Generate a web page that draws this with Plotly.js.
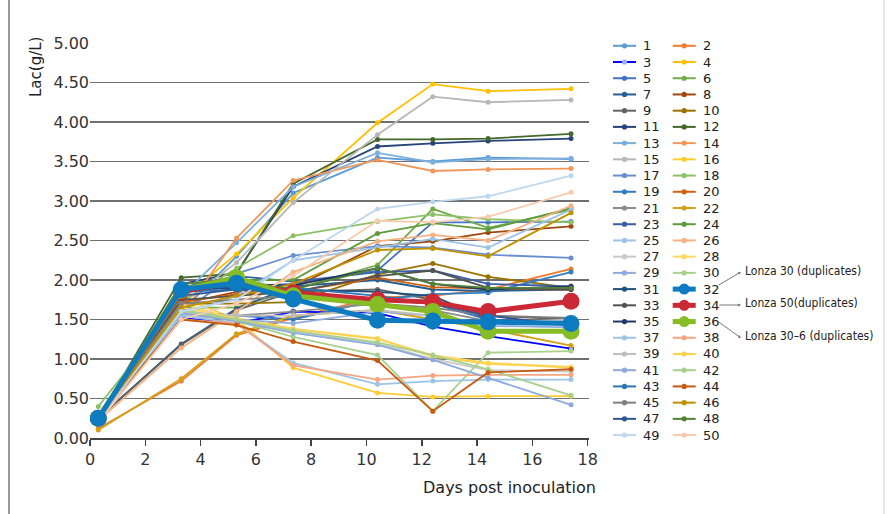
<!DOCTYPE html>
<html>
<head>
<meta charset="utf-8">
<script src="https://cdn.plot.ly/plotly-3.0.1.min.js"></script>
<style>
html,body{margin:0;padding:0;background:#fff;}
#chart{width:887px;height:514px;}
</style>
</head>
<body>
<div id="chart"></div>
<script>
// ---- data ----
const days = [0.3, 3.3, 5.3, 7.35, 10.4, 12.4, 14.4, 17.4];
const xTicks = [0, 2, 4, 6, 8, 10, 12, 14, 16, 18];
const yTicks = [0, 0.5, 1, 1.5, 2, 2.5, 3, 3.5, 4, 4.5, 5];

const s01 = [0.25, 1.60, 2.30, 3.10, 3.55, 3.50, 3.55, 3.53];
const s02 = [0.12, 0.72, 1.30, 1.52, 1.78, 1.80, 1.88, 2.14];
const s03 = [0.25, 1.52, 1.45, 1.60, 1.58, 1.41, 1.29, 1.13];
const s04 = [0.20, 1.75, 2.33, 3.04, 3.99, 4.48, 4.39, 4.42];
const s05 = [0.25, 1.85, 1.92, 1.95, 2.12, 2.73, 2.73, 2.74];
const s06 = [0.25, 1.65, 1.65, 1.88, 2.19, 2.90, 2.66, 2.89];
const s07 = [0.25, 1.19, 1.64, 1.92, 2.00, 1.88, 1.86, 1.88];
const s08 = [0.25, 1.70, 1.85, 1.90, 2.43, 2.49, 2.60, 2.68];
const s09 = [0.25, 1.18, 1.62, 1.85, 1.88, 1.75, 1.55, 1.50];
const s10 = [0.25, 1.70, 1.70, 1.72, 2.07, 2.21, 2.04, 1.90];
const s11 = [0.22, 1.95, 2.09, 3.18, 3.69, 3.73, 3.76, 3.79];
const s12 = [0.25, 2.03, 2.08, 3.22, 3.78, 3.78, 3.79, 3.85];
const s13 = [0.24, 1.80, 2.47, 3.18, 3.61, 3.49, 3.53, 3.54];
const s14 = [0.24, 1.55, 2.53, 3.26, 3.52, 3.38, 3.40, 3.41];
const s15 = [0.22, 1.70, 2.22, 2.98, 3.84, 4.32, 4.25, 4.28];
const s16 = [0.22, 1.78, 1.50, 0.89, 0.57, 0.52, 0.53, 0.53];
const s17 = [0.25, 1.58, 2.08, 2.31, 2.43, 2.41, 2.32, 2.28];
const s18 = [0.40, 1.72, 2.15, 2.56, 2.74, 2.83, 2.77, 2.73];
const s19 = [0.25, 1.60, 1.55, 1.50, 1.75, 1.82, 1.84, 2.10];
const s20 = [0.25, 1.72, 1.82, 1.85, 2.03, 1.91, 1.89, 1.88];
const s21 = [0.25, 1.55, 1.55, 1.60, 1.70, 1.62, 1.48, 1.45];
const s22 = [0.10, 0.75, 1.32, 1.55, 1.62, 1.50, 1.38, 1.17];
const s23 = [0.25, 1.90, 2.05, 1.98, 2.10, 2.12, 1.95, 1.92];
const s24 = [0.25, 1.95, 2.00, 2.00, 2.59, 2.72, 2.64, 2.91];
const s25 = [0.25, 1.55, 1.80, 2.25, 2.41, 2.52, 2.41, 2.89];
const s26 = [0.22, 1.14, 1.60, 2.10, 2.49, 2.57, 2.50, 2.94];
const s27 = [0.25, 1.55, 1.50, 1.35, 1.20, 1.00, 0.86, 0.84];
const s28 = [0.25, 1.65, 1.52, 1.38, 1.25, 1.05, 0.95, 0.90];
const s29 = [0.25, 1.58, 1.50, 1.45, 1.60, 1.55, 1.42, 1.40];
const s30 = [0.25, 1.60, 1.48, 1.28, 1.05, 0.34, 1.08, 1.10];
const s31 = [0.25, 1.88, 1.90, 1.88, 1.85, 1.80, 1.50, 1.43];
const s32 = [0.25, 1.88, 1.96, 1.76, 1.49, 1.48, 1.47, 1.45];
const s33 = [0.25, 1.75, 1.80, 1.85, 2.05, 2.12, 1.90, 1.88];
const s34 = [0.25, 1.85, 1.98, 1.84, 1.75, 1.72, 1.60, 1.73];
const s35 = [0.25, 1.90, 1.95, 1.93, 2.15, 1.95, 1.88, 1.92];
const s36 = [0.25, 1.87, 2.03, 1.80, 1.69, 1.60, 1.35, 1.35];
const s37 = [0.25, 1.55, 1.45, 0.95, 0.68, 0.72, 0.74, 0.74];
const s38 = [0.22, 1.50, 1.45, 0.92, 0.74, 0.79, 0.80, 0.80];
const s39 = [0.25, 1.60, 1.55, 1.55, 1.62, 1.55, 1.45, 1.50];
const s40 = [0.25, 1.70, 1.50, 1.38, 1.26, 1.03, 0.94, 0.89];
const s41 = [0.25, 1.58, 1.48, 1.33, 1.18, 0.99, 0.76, 0.42];
const s42 = [0.25, 1.62, 1.50, 1.36, 1.21, 1.05, 0.87, 0.54];
const s43 = [0.25, 1.85, 1.88, 1.90, 1.80, 1.70, 1.50, 1.45];
const s44 = [0.25, 1.50, 1.43, 1.22, 0.98, 0.34, 0.83, 0.87];
const s45 = [0.25, 1.70, 1.75, 1.80, 1.70, 1.65, 1.55, 1.52];
const s46 = [0.25, 1.65, 1.80, 1.95, 2.38, 2.40, 2.30, 2.85];
const s47 = [0.25, 1.80, 1.88, 1.85, 1.75, 1.70, 1.55, 1.42];
const s48 = [0.25, 1.95, 2.00, 1.88, 2.15, 1.95, 1.90, 1.90];
const s49 = [0.22, 1.60, 1.75, 2.25, 2.90, 2.99, 3.06, 3.32];
const s50 = [0.20, 1.50, 1.70, 2.05, 2.75, 2.73, 2.80, 3.11];

const allSeries = [s01,s02,s03,s04,s05,s06,s07,s08,s09,s10,s11,s12,s13,s14,s15,s16,s17,s18,s19,s20,
  s21,s22,s23,s24,s25,s26,s27,s28,s29,s30,s31,s32,s33,s34,s35,s36,s37,s38,s39,s40,
  s41,s42,s43,s44,s45,s46,s47,s48,s49,s50];
const seriesNames = allSeries.map((_, i) => String(i + 1));
const seriesColors = [
  '#5B9BD5','#ED7D31','#0000FF','#FFC000','#4472C4','#70AD47','#255E91','#9E480E','#636363','#997300',
  '#264478','#43682B','#7CAFDD','#F1975A','#B7B7B7','#FFCD33','#698ED0','#8CC168','#327DC2','#D26012',
  '#8B8B8B','#D4A017','#3A5FA9','#5E9B3A','#9DC3E6','#F4B183','#C9C9C9','#FFD966','#8FAADC','#A9D18E',
  '#1F4E79','#0C7BC0','#525252','#CC2936','#203864','#86BC25','#9DC3E6','#F4A582','#BFBFBF','#FFD24D',
  '#8EA9DB','#A8D08D','#2E75B6','#C55A11','#7F7F7F','#BF9000','#2F5597','#548235','#BDD7EE','#F8CBAD'
];
const highlighted = ['32', '34', '36'];
const calloutLabels = ['Lonza 30 (duplicates)', 'Lonza 50(duplicates)', 'Lonza 30\u20136 (duplicates)'];

// ---- geometry ----
const W = 887, H = 514;
const L = 90, R = 298, T = 43, B = 76;
const PW = W - L - R, PH = H - T - B;
const px = p => (p - L) / PW;
const py = p => (T + PH - p) / PH;

// ---- traces ----
const order = [];
seriesNames.forEach((n, i) => { if (!highlighted.includes(n)) order.push(i); });
[33, 35, 31].forEach(i => order.push(i));

const traces = order.map(i => {
  const big = highlighted.includes(seriesNames[i]);
  const c = seriesColors[i];
  return {
    type: 'scatter', mode: 'lines+markers',
    name: seriesNames[i], x: days, y: allSeries[i],
    line: {color: c, width: big ? 5 : 1.8},
    marker: {size: big ? 17 : 5, color: seriesNames[i] === '3' ? '#9fa8ff' : c,
             line: {width: seriesNames[i] === '3' ? 1 : 0, color: c}},
    showlegend: false, hoverinfo: 'name+x+y'
  };
});

// ---- custom legend (two columns, row-major) ----
const shapes = [];
const annotations = [];
const rowY0 = 45.8, rowStep = 16.22;
seriesNames.forEach((n, i) => {
  const col = i % 2, row = Math.floor(i / 2);
  const yPix = rowY0 + row * rowStep;
  const lx0 = col === 0 ? 613 : 672.7;
  const lx1 = lx0 + 23;
  const big = highlighted.includes(n);
  shapes.push({type: 'line', xref: 'paper', yref: 'paper', x0: px(lx0), x1: px(lx1), y0: py(yPix), y1: py(yPix),
    line: {color: seriesColors[i], width: big ? 5 : 2}});
  const r = big ? 5.5 : 2.6;
  shapes.push({type: 'circle', xref: 'paper', yref: 'paper', xsizemode: 'pixel', ysizemode: 'pixel',
    xanchor: px((lx0 + lx1) / 2), yanchor: py(yPix), x0: -r, x1: r, y0: -r, y1: r,
    fillcolor: n === '3' ? '#9fa8ff' : seriesColors[i], line: {width: 0}});
  annotations.push({xref: 'paper', yref: 'paper', x: px(lx1 + 5), y: py(yPix), xanchor: 'left', yanchor: 'middle',
    text: n, showarrow: false, font: {family: 'DejaVu Sans', size: 13, color: '#222'}});
});

// callouts
const callouts = [
  {tail: [717, 286], head: [741, 272], ty: 271},
  {tail: [718, 305], head: [741, 305], ty: 303},
  {tail: [716, 320], head: [741, 338], ty: 336}
];
callouts.forEach((c, k) => {
  annotations.push({xref: 'paper', yref: 'paper', x: px(c.head[0]), y: py(c.head[1]),
    ax: c.tail[0] - c.head[0], ay: c.tail[1] - c.head[1], text: '', showarrow: true,
    arrowhead: 2, arrowsize: 0.6, arrowwidth: 1, arrowcolor: '#777'});
  annotations.push({xref: 'paper', yref: 'paper', x: px(743), y: py(c.ty), xanchor: 'left', yanchor: 'middle',
    text: calloutLabels[k], showarrow: false, font: {family: 'DejaVu Sans Condensed, DejaVu Sans', size: 12, color: '#222'}});
});

// axis titles
annotations.push({xref: 'paper', yref: 'paper', x: px(598), y: py(487), xanchor: 'right', yanchor: 'middle',
  text: 'Days post inoculation', showarrow: false, font: {family: 'DejaVu Sans', size: 16, color: '#222'}});
annotations.push({xref: 'paper', yref: 'paper', x: px(36), y: py(67), xanchor: 'center', yanchor: 'middle',
  text: 'Lac(g/L)', textangle: -90, showarrow: false, font: {family: 'DejaVu Sans', size: 15, color: '#222'}});

// frame lines
shapes.push({type: 'line', xref: 'paper', yref: 'paper', x0: px(9), x1: px(9), y0: py(0), y1: py(514), line: {color: '#999', width: 2}});
shapes.push({type: 'line', xref: 'paper', yref: 'paper', x0: px(884), x1: px(884), y0: py(0), y1: py(514), line: {color: '#ccc', width: 1}});

const layout = {
  width: W, height: H,
  margin: {l: L, r: R, t: T, b: B, pad: 0},
  paper_bgcolor: '#fff', plot_bgcolor: '#fff',
  font: {family: 'DejaVu Sans', size: 16, color: '#333'},
  showlegend: false,
  xaxis: {range: [0, 18.05], tickvals: xTicks, ticktext: xTicks.map(String),
    showgrid: false, zeroline: false, showline: true, linecolor: '#444', linewidth: 2,
    ticks: 'outside', ticklen: 6, tickcolor: '#444', tickwidth: 1.5,
    tickfont: {family: 'DejaVu Sans', size: 16, color: '#333'}},
  yaxis: {range: [0, 5], tickvals: yTicks, tickformat: '.2f',
    showgrid: true, gridcolor: '#707070', gridwidth: 1.6, zeroline: false, showline: false,
    ticks: '', tickfont: {family: 'DejaVu Sans', size: 16, color: '#333'}},
  shapes: shapes, annotations: annotations
};

Plotly.newPlot('chart', traces, layout, {displayModeBar: false, staticPlot: true});
</script>
</body>
</html>
